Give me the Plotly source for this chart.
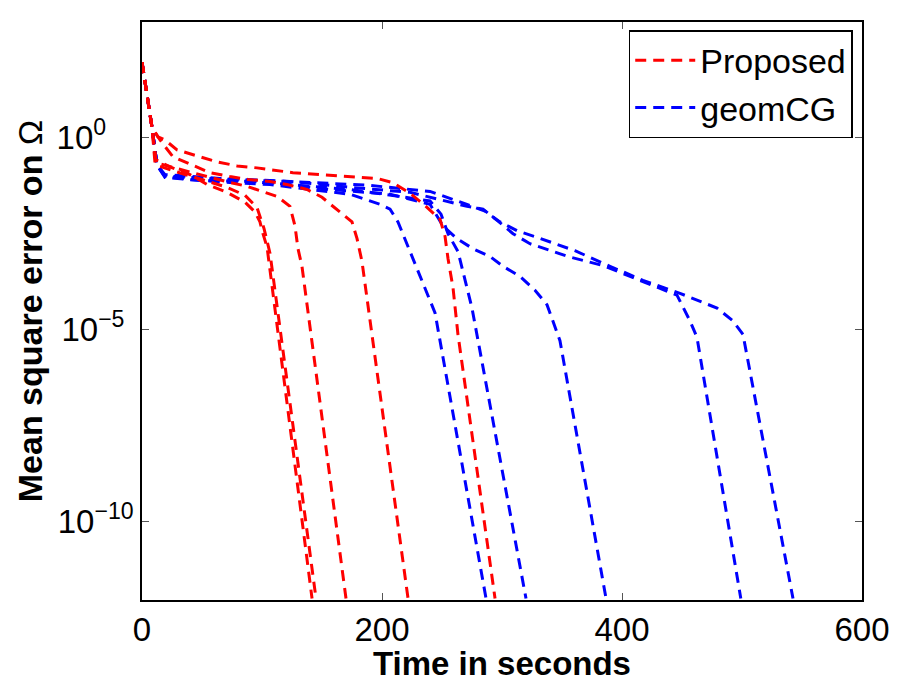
import plotly.graph_objects as go

# ---- data (time in s, mean square error) ----
prop1_t = [0, 4.2, 8.3, 11.7, 23.3, 40, 54.2, 70.8, 85.8, 94.2, 98.3, 100.8, 104.2, 141.7]
prop1_e = [90, 13.7, 1.84, 0.26, 0.17, 0.107, 0.059, 0.037, 0.0205, 0.0114, 6.3e-3, 3.1e-3, 1.4e-3, 1e-12]

prop2_t = [0, 4.2, 8.3, 11.7, 27.5, 52.5, 70.8, 85.8, 95.8, 101.7, 106.7, 145]
prop2_e = [90, 13.7, 1.84, 0.19, 0.13, 0.075, 0.05, 0.031, 0.015, 4.2e-3, 9.5e-4, 1e-12]

prop3_t = [0, 4.2, 8.3, 10.8, 31.7, 54.2, 73.3, 87.5, 112.5, 123.3, 127.5, 130, 133.3, 170]
prop3_e = [90, 13.7, 1.84, 0.22, 0.144, 0.095, 0.067, 0.053, 0.029, 0.016, 4.9e-3, 1.26e-3, 4.4e-4, 1e-12]

prop4_t = [0, 4.2, 8.3, 15, 25.8, 41.7, 56.7, 73.3, 88.3, 106.7, 120.8, 137.5, 150, 165, 175, 179.2, 183.3, 221.7]
prop4_e = [90, 13.7, 1.84, 0.85, 0.31, 0.19, 0.12, 0.095, 0.08, 0.071, 0.059, 0.044, 0.0275, 0.0113, 6.3e-3, 2.3e-3, 5.9e-4, 1e-12]

prop5_t = [0, 4.2, 8.3, 13.3, 19.2, 29.2, 45.8, 62.5, 79.2, 95.8, 125.8, 159.2, 195.8, 209.2, 223.3, 237.5, 248.3, 252.5, 255, 259.2, 263.3, 294.2]
prop5_e = [90, 13.7, 1.84, 1.02, 0.85, 0.47, 0.33, 0.23, 0.18, 0.16, 0.12, 0.10, 0.085, 0.066, 0.035, 0.015, 7.4e-3, 2.7e-3, 7e-4, 1.2e-4, 7.4e-6, 1e-12]

geom1_t = [0, 4.2, 8.3, 12.5, 19.2, 40, 73.3, 106.7, 140, 173.3, 198.3, 206.7, 213.3, 225.8, 244.2, 286.7]
geom1_e = [90, 13.7, 1.84, 0.19, 0.095, 0.08, 0.067, 0.059, 0.044, 0.033, 0.018, 0.0135, 6.3e-3, 7e-4, 2.7e-5, 1e-12]

geom2_t = [0, 4.2, 8.3, 12.5, 19.2, 48.3, 90, 131.7, 173.3, 215, 240, 249.2, 255, 263.3, 275, 320]
geom2_e = [90, 13.7, 1.84, 0.19, 0.09, 0.075, 0.071, 0.056, 0.044, 0.029, 0.022, 0.01, 3.1e-3, 1.07e-3, 3.6e-5, 1e-12]

geom3_t = [0, 4.2, 8.3, 12.5, 19.2, 56.7, 106.7, 156.7, 206.7, 240, 250.8, 262.5, 275.8, 290, 300.8, 315, 327.5, 337.5, 348.3, 386.7]
geom3_e = [90, 13.7, 1.84, 0.19, 0.10, 0.08, 0.067, 0.044, 0.033, 0.018, 4.9e-3, 2.3e-3, 1.26e-3, 7.9e-4, 4.4e-4, 2.4e-4, 1.05e-4, 4.4e-5, 5.1e-6, 1e-12]

geom4_t = [0, 4.2, 8.3, 12.5, 19.2, 65, 123.3, 173.3, 223.3, 270.8, 284.2, 296.7, 309.2, 323.3, 340, 355, 384.2, 417.5, 445.8, 456.7, 462.5, 499]
geom4_e = [90, 13.7, 1.84, 0.19, 0.107, 0.085, 0.071, 0.05, 0.037, 0.016, 0.0135, 6.6e-3, 3.1e-3, 1.7e-3, 1.12e-3, 7.9e-4, 4.6e-4, 1.8e-4, 7.8e-5, 1.66e-5, 6.2e-6, 1e-12]

geom5_t = [0, 4.2, 8.3, 12.5, 19.2, 73.3, 140, 190, 240, 270.8, 285.8, 298.3, 312.5, 330, 360.8, 390, 417.5, 448.3, 479.2, 492.5, 500.8, 542.5]
geom5_e = [90, 13.7, 1.84, 0.19, 0.098, 0.08, 0.067, 0.056, 0.039, 0.018, 0.012, 6.3e-3, 3.7e-3, 2.45e-3, 1.12e-3, 4.4e-4, 1.9e-4, 8.7e-5, 3.6e-5, 1.66e-5, 7.4e-6, 1e-12]

proposed_runs = [(prop1_t, prop1_e), (prop2_t, prop2_e), (prop3_t, prop3_e), (prop4_t, prop4_e), (prop5_t, prop5_e)]
geomcg_runs = [(geom1_t, geom1_e), (geom2_t, geom2_e), (geom3_t, geom3_e), (geom4_t, geom4_e), (geom5_t, geom5_e)]

x_ticks = [0, 200, 400, 600]
y_ticks = [1, 1e-5, 1e-10]
y_ticktext = ["10<sup>0</sup>   ", "10<sup>\u22125</sup> ", "10<sup>\u221210</sup>"]
x_title = "<b>Time in seconds</b>"
y_title = "<b>Mean square error on </b>\u03a9"

series = [("Proposed", "#ff0000", proposed_runs), ("geomCG", "#0000ff", geomcg_runs)]

FONT = "Liberation Sans, Arial, Helvetica, sans-serif"

fig = go.Figure()
# geomCG drawn first so the red curves stay on top where they overlap
for name, color, runs in series[::-1]:
    for i, (t, e) in enumerate(runs):
        fig.add_trace(go.Scatter(
            x=t, y=e, mode="lines", name=name, legendgroup=name,
            showlegend=(i == 0), legendrank=1 if name == "Proposed" else 2,
            line=dict(color=color, width=3, dash="11px,7px"),
        ))

axis_common = dict(
    showline=True, linecolor="black", linewidth=1.5, mirror="ticks",
    ticks="inside", ticklen=7, tickwidth=1, tickcolor="#555555",
    showgrid=False, zeroline=False,
    tickfont=dict(family=FONT, size=33, color="black"),
)

fig.update_xaxes(range=[0, 600], tickvals=x_ticks, ticktext=[str(v) for v in x_ticks], **axis_common)
fig.update_yaxes(
    type="log", range=[-12.04, 3.0], tickvals=y_ticks, ticktext=y_ticktext,
    title=dict(text=y_title, standoff=4, font=dict(family=FONT, size=34, color="black")),
    **axis_common,
)

# x-axis title placed as an annotation so it sits just under the tick labels
fig.add_annotation(
    text=x_title, xref="paper", yref="paper", x=0.5, y=0,
    xanchor="center", yanchor="top", yshift=-43, showarrow=False,
    font=dict(family=FONT, size=33, color="black"),
)

fig.update_layout(
    width=900, height=685,
    margin=dict(l=134, r=46, t=12, b=93),
    paper_bgcolor="white", plot_bgcolor="white",
    showlegend=True,
    legend=dict(
        x=0.676, y=0.986, xanchor="left", yanchor="top",
        bgcolor="white", bordercolor="black", borderwidth=1.5,
        font=dict(family=FONT, size=34, color="black"),
        tracegroupgap=0, traceorder="grouped", itemwidth=60,
    ),
)

fig.write_html("out.html")
